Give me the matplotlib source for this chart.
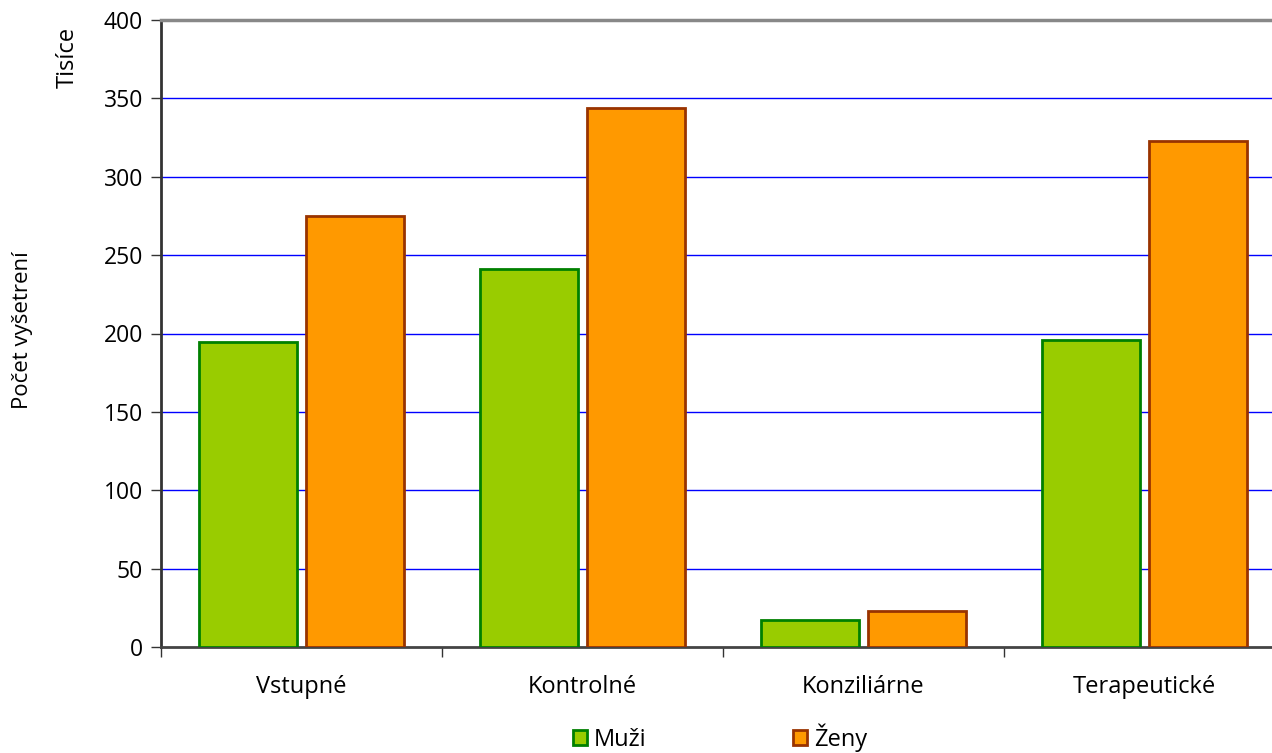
import matplotlib
matplotlib.use("Agg")
import matplotlib.pyplot as plt
import numpy as np

categories = ["Vstupné", "Kontrolné", "Konziliárne", "Terapeutické"]
muzi = [194.6, 241.1, 17.2, 195.9]
zeny = [275.0, 343.9, 23.0, 322.8]
series_names = ["Muži", "Ženy"]
yticks = [0, 50, 100, 150, 200, 250, 300, 350, 400]

plt.rcParams['font.family'] = ['Open Sans', 'DejaVu Sans']

fig = plt.figure(figsize=(12.72, 7.53), dpi=100)
ax = fig.add_axes([161/1272, 106/753, 1124/1272, 627/753])

x = np.arange(len(categories))
w = 0.35
off = 0.19
ax.bar(x - off, muzi, w, color="#99CC00", edgecolor="#008000", linewidth=2, label=series_names[0], zorder=3)
ax.bar(x + off, zeny, w, color="#FF9900", edgecolor="#993300", linewidth=2, label=series_names[1], zorder=3)

ax.set_xlim(-0.5, len(categories) - 0.5)
ax.set_ylim(0, 400)
ax.set_yticks(yticks)
ax.set_yticklabels([str(v) for v in yticks], fontsize=16.5)
ax.set_xticks(x)
ax.set_xticklabels(categories, fontsize=17)
ax.tick_params(axis='x', length=0, pad=20)
ax.set_xticks(np.arange(len(categories) + 1) - 0.5, minor=True)
ax.tick_params(axis='x', which='minor', length=7, width=1, color="#333333", direction='out')
ax.tick_params(axis='y', length=7, width=1, color="#333333", direction='out', pad=6)

for yv in yticks[1:-1]:
    ax.axhline(yv, color="#0000FF", linewidth=1, zorder=1)

ax.spines['top'].set_color("#888888")
ax.spines['top'].set_linewidth(2.5)
ax.spines['left'].set_color("#333333")
ax.spines['left'].set_linewidth(2)
ax.spines['bottom'].set_color("#444444")
ax.spines['bottom'].set_linewidth(2)
ax.spines['right'].set_visible(False)

fig.text(68/1272, 1 - 57/753, "Tisíce", rotation=90, ha='center', va='center', fontsize=17)
fig.text(23/1272, 1 - 330/753, "Počet vyšetrení", rotation=90, ha='center', va='center', fontsize=16)

leg = fig.legend(loc='center', bbox_to_anchor=(720/1272, 1 - 738/753), ncol=2, frameon=False,
                 fontsize=17, handlelength=0.6, handleheight=0.6, handletextpad=0.3,
                 columnspacing=6.2)

fig.savefig("out.png", dpi=100)
